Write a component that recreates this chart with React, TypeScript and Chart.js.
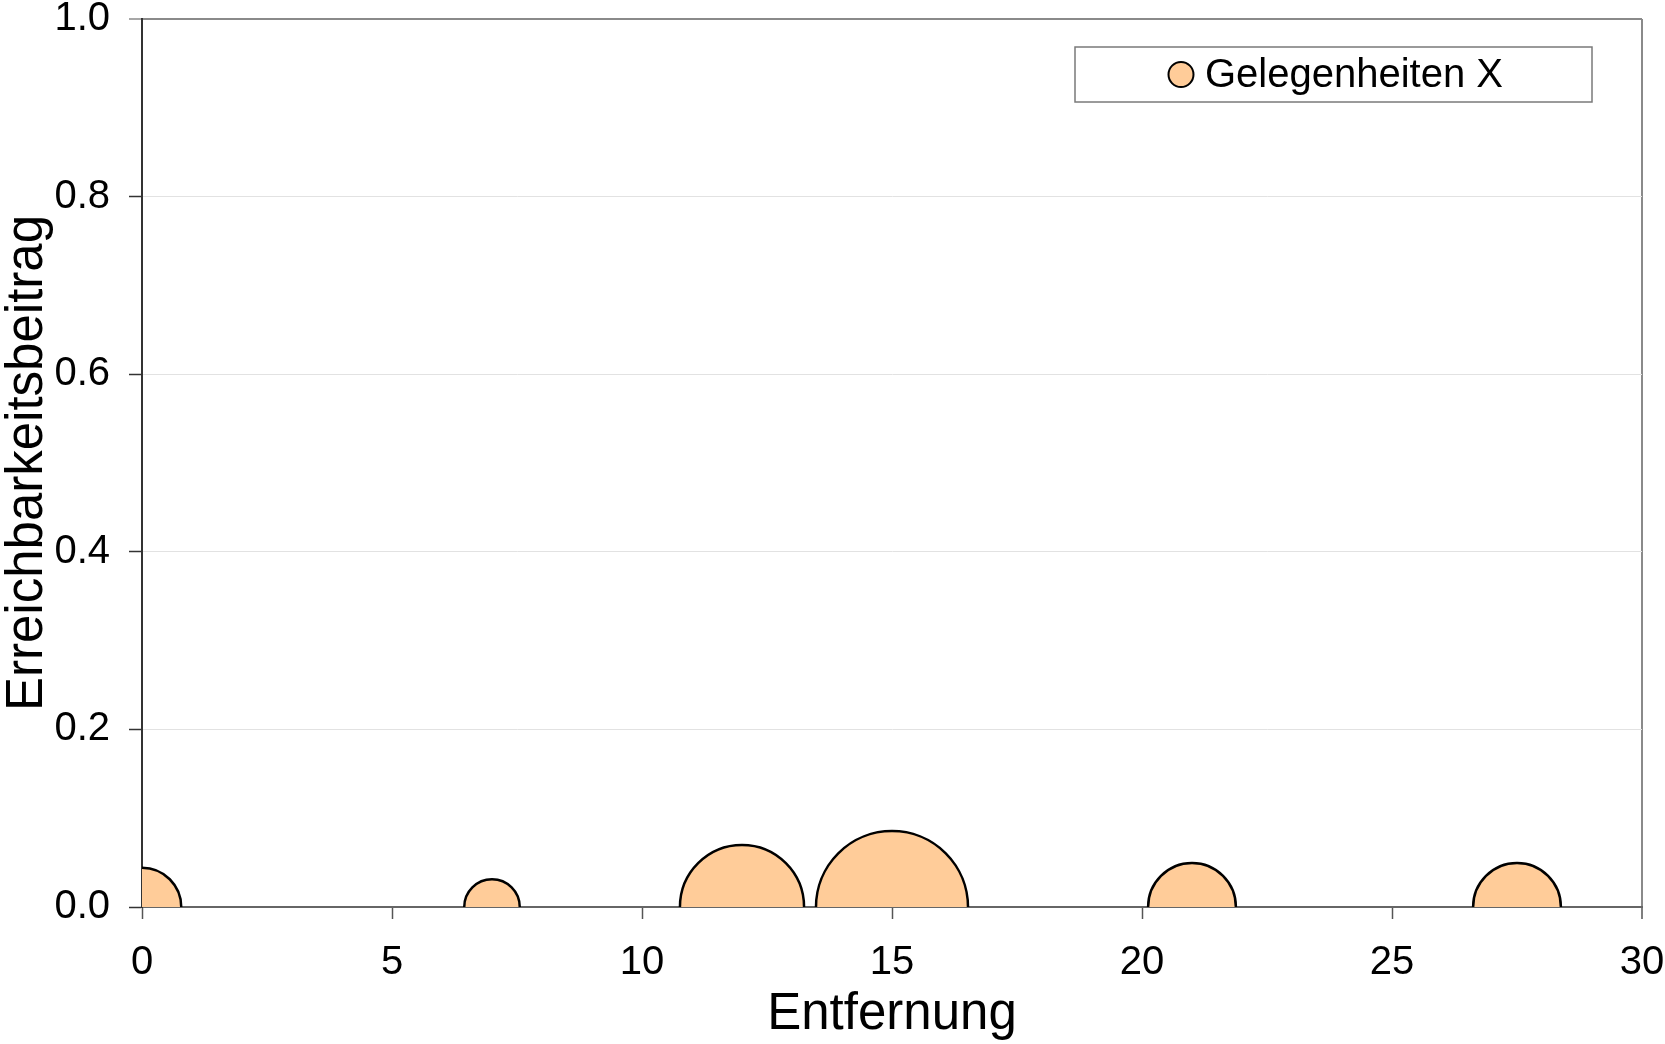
import { useEffect, useRef } from "react";
import { Chart, registerables } from "chart.js";

Chart.register(...registerables);

// Opportunities located at various distances; each contributes ~0 to accessibility.
const entfernung = [0, 7, 12, 15, 21, 27.5];
const erreichbarkeitsbeitrag = [0, 0, 0, 0, 0, 0];
const gelegenheiten = [4, 2, 10, 15, 5, 5];

const seriesLabel = "Gelegenheiten X";
const xTitle = "Entfernung";
const yTitle = "Erreichbarkeitsbeitrag";
const xTicks = [0, 5, 10, 15, 20, 25, 30];
const yTicks = [0, 0.2, 0.4, 0.6, 0.8, 1.0];

const FONT = "'Liberation Sans', Arial, Helvetica, sans-serif";
const BUBBLE_FILL = "#ffcc99";
const MAX_RADIUS = 76;

// Bubble area is proportional to the number of opportunities.
const maxSize = Math.max(...gelegenheiten);
const bubbleData = entfernung.map((x, i) => ({
  x,
  y: erreichbarkeitsbeitrag[i],
  r: MAX_RADIUS * Math.sqrt(gelegenheiten[i] / maxSize),
}));

// Legend drawn as a framed box inside the plot area, top right.
const legendBox = {
  id: "legendBox",
  afterDraw(chart: any) {
    const { ctx, chartArea } = chart;
    const ds = chart.data.datasets[0];
    const w = 517;
    const h = 55;
    const x = chartArea.right - 567;
    const y = chartArea.top + 28;
    ctx.save();
    ctx.fillStyle = "#ffffff";
    ctx.fillRect(x, y, w, h);
    ctx.strokeStyle = "#7a7a7a";
    ctx.lineWidth = 1.5;
    ctx.strokeRect(x, y, w, h);
    const cy = y + h / 2;
    ctx.beginPath();
    ctx.arc(x + 106, cy, 12.5, 0, Math.PI * 2);
    ctx.fillStyle = ds.backgroundColor;
    ctx.fill();
    ctx.lineWidth = 2;
    ctx.strokeStyle = ds.borderColor;
    ctx.stroke();
    ctx.fillStyle = "#000000";
    ctx.font = `40px ${FONT}`;
    ctx.textBaseline = "middle";
    ctx.textAlign = "left";
    ctx.fillText(ds.label, x + 130, cy + 1);
    ctx.restore();
  },
};

export default function App() {
  const canvasRef = useRef<HTMLCanvasElement | null>(null);

  useEffect(() => {
    document.body.style.margin = "0";
    const canvas = canvasRef.current;
    if (!canvas) return;
    const chart = new Chart(canvas, {
      type: "bubble",
      data: {
        datasets: [
          {
            label: seriesLabel,
            data: bubbleData,
            backgroundColor: BUBBLE_FILL,
            borderColor: "#000000",
            borderWidth: 2.5,
            hoverBorderWidth: 2.5,
            clip: { left: 0, top: 0, right: 0, bottom: 0 },
          } as any,
        ],
      },
      options: {
        responsive: false,
        animation: false,
        devicePixelRatio: 1,
        layout: { autoPadding: false, padding: { top: 19, right: 23, left: 0, bottom: 0 } },
        plugins: {
          legend: { display: false },
          tooltip: { enabled: false },
        },
        scales: {
          x: {
            type: "linear",
            position: "bottom",
            min: xTicks[0],
            max: xTicks[xTicks.length - 1],
            z: 1,
            afterBuildTicks: (s: any) => {
              s.ticks = xTicks.map((v) => ({ value: v }));
            },
            afterFit: (s: any) => {
              s.height = 137;
              s.paddingLeft = 0;
              s.paddingRight = 0;
            },
            grid: {
              drawOnChartArea: true,
              color: (c: any) => (c.tick && c.tick.value === xTicks[xTicks.length - 1] ? "#8a8a8a" : "rgba(0,0,0,0)"),
              lineWidth: (c: any) => (c.tick && c.tick.value === xTicks[xTicks.length - 1] ? 2 : 1),
              tickColor: "#555555",
              tickLength: 12,
              tickWidth: 1.5,
            },
            border: { display: true, color: "#666666", width: 2 },
            ticks: {
              color: "#000000",
              padding: 20,
              maxRotation: 0,
              font: { family: FONT, size: 40 },
              callback: (v: any) => String(v),
            },
            title: {
              display: true,
              text: xTitle,
              color: "#000000",
              font: { family: FONT, size: 51, lineHeight: 1 },
              padding: { top: 0, bottom: 4 },
            },
          },
          y: {
            type: "linear",
            position: "left",
            min: yTicks[0],
            max: yTicks[yTicks.length - 1],
            z: 1,
            afterBuildTicks: (s: any) => {
              s.ticks = yTicks.map((v) => ({ value: v }));
            },
            afterFit: (s: any) => {
              s.width = 142;
              s.paddingTop = 0;
              s.paddingBottom = 0;
            },
            grid: {
              drawOnChartArea: true,
              color: (c: any) => (c.tick && c.tick.value === yTicks[yTicks.length - 1] ? "#8a8a8a" : "#e2e2e2"),
              lineWidth: (c: any) => (c.tick && c.tick.value === yTicks[yTicks.length - 1] ? 2 : 1),
              tickColor: (c: any) => (c.tick && c.tick.value === yTicks[yTicks.length - 1] ? "#8a8a8a" : "#333333"),
              tickLength: 13,
              tickWidth: 1.5,
            },
            border: { display: true, color: "#333333", width: 2 },
            ticks: {
              color: "#000000",
              padding: 19,
              font: { family: FONT, size: 40 },
              callback: (v: any) => Number(v).toFixed(1),
            },
            title: {
              display: true,
              text: yTitle,
              color: "#000000",
              font: { family: FONT, size: 51, lineHeight: 1 },
              padding: { top: 2, bottom: 0 },
            },
          },
        },
      },
      plugins: [legendBox],
    });
    return () => chart.destroy();
  }, []);

  return (
    <div style={{ position: "absolute", left: 0, top: 0, width: 1665, height: 1044, background: "#ffffff" }}>
      <canvas ref={canvasRef} width={1665} height={1044} style={{ display: "block" }} />
    </div>
  );
}
